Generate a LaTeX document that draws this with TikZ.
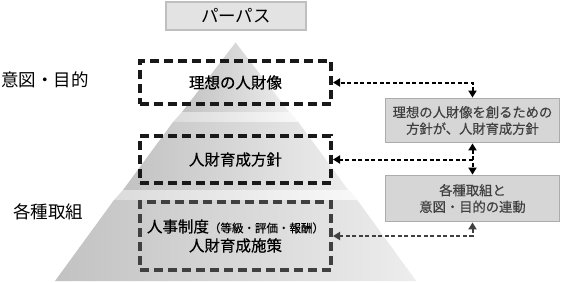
\documentclass[tikz,border=0pt]{standalone}
\usepackage{fontspec}
\setmainfont{Noto Sans CJK JP}[BoldFont={Noto Sans CJK JP},BoldFeatures={FakeBold=0.5}]
\usetikzlibrary{positioning,arrows.meta,calc}
\definecolor{tmava}{HTML}{404040}
\tikzset{
  hrot/.tip={Triangle[length=7pt,width=8pt]},
  ramec/.style={draw=black!90,line width=4pt,dash pattern=on 9pt off 5pt,minimum width=191pt,inner sep=0pt,font=\fontsize{15.5}{19}\selectfont\bfseries},
  ramecG/.style={ramec,draw=tmava},
  pole/.style={draw=gray!65,fill=gray!32,line width=1.8pt,minimum width=174pt,inner sep=0pt,align=center,text=tmava,font=\fontsize{13.3}{16.5}\selectfont\bfseries},
  popis/.style={inner sep=0pt,font=\fontsize{17.5}{20}\selectfont},
  vrstva/.style={left color=gray!48,right color=gray!14},
  pas/.style={left color=gray!28,right color=gray!5},
  sip/.style={line width=2pt,dash pattern=on 4pt off 2.5pt},
}

\begin{document}
\begin{tikzpicture}[x=1pt,y=-1pt]
\useasboundingbox (0,0) rectangle (561,282);
% pyramid layers
\shade[vrstva] (236,42) -- (290,112) -- (182,112) -- cycle;
\shade[pas] (182,112) -- (290,112) -- (299,122) -- (173,122) -- cycle;
\shade[vrstva] (173,122) -- (299,122) -- (349,190) -- (123,190) -- cycle;
\shade[pas] (123,190) -- (349,190) -- (358,200) -- (114,200) -- cycle;
\shade[vrstva] (114,200) -- (358,200) -- (417,281) -- (55,281) -- cycle;
\draw[white,line width=1pt] (236,42) -- (290,112) (299,122) -- (349,190) (358,200) -- (417,281);

\node[draw=gray!50,fill=gray!22,line width=1.8pt,minimum width=140pt,minimum height=28pt,
  font=\fontsize{17.5}{20}\selectfont] (purpose) at (236,16) {パーパス};

\node[ramec,minimum height=43pt] (ideal) at (235.5,82.5) {理想の人財像};
\node[ramec,minimum height=47pt] (policy) at (235.5,159.5) {人財育成方針};
\node[ramecG,minimum height=68pt,align=center] (measure) at (235.5,236)
  {人事制度{\fontsize{11.5}{14}\selectfont（等級・評価・報酬）}\\人財育成施策};

\node[popis,anchor=west] (intent) at (1,80) {意図・目的};
\node[popis] (efforts) at (48,212) {各種取組};

\node[pole,minimum height=44pt] (linkA) at (472.5,120.5) {理想の人財像を創るための\\方針が、人財育成方針};
\node[pole,minimum height=46pt] (linkB) at (472.5,198.5) {各種取組と\\意図・目的の連動};

\draw[sip,hrot-hrot] (linkA.north) |- (ideal.east);
\draw[sip,hrot-hrot] (linkA.south) -- (linkB.north);
\draw[sip,-hrot] (linkA.south |- policy.east) -- (policy.east);
\draw[sip,tmava,hrot-hrot] (linkB.south) |- (measure.east);
\end{tikzpicture}
\end{document}
